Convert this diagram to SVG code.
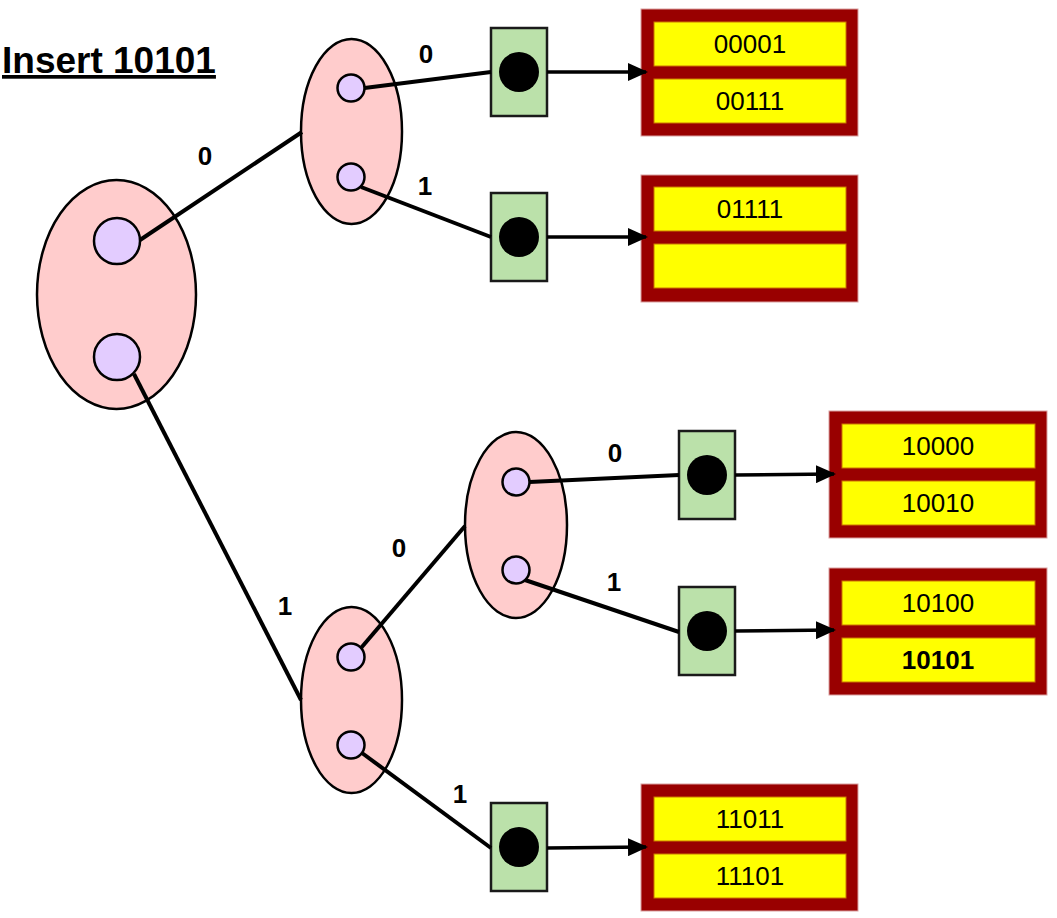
<svg xmlns="http://www.w3.org/2000/svg" width="1057" height="918" viewBox="0 0 1057 918">
<style>
.oval{fill:#FFCCCC;stroke:#000;stroke-width:2.5}
.slot{fill:#E3CCFF;stroke:#000;stroke-width:2.5}
.ptr{fill:#BBE1AA;stroke:#1a1a1a;stroke-width:2.5}
.dot{fill:#000}
.bk{fill:#990000;stroke:#d9a0a0;stroke-width:1}
.cell{fill:#FFFF00;stroke:#cc7700;stroke-width:1}
.edge{stroke:#000;stroke-width:4;fill:none}
.arr{stroke:#000;stroke-width:3.5;fill:none;marker-end:url(#ah)}
.lbl{font-family:"Liberation Sans",Arial,sans-serif;font-weight:bold;font-size:26px;fill:#000;text-anchor:middle}
.val{font-family:"Liberation Sans",Arial,sans-serif;font-size:26px;fill:#000;text-anchor:middle}
.title{font-family:"Liberation Sans",Arial,sans-serif;font-weight:bold;font-size:37px;fill:#000;text-decoration:underline}
</style>
<defs>
<marker id="ah" markerUnits="userSpaceOnUse" markerWidth="20" markerHeight="18" refX="18" refY="9" orient="auto">
<path d="M0,0 L20,9 L0,18 Z" fill="#000"/>
</marker>
</defs>
<rect width="1057" height="918" fill="#fff"/>
<text class="title" x="2" y="73">Insert 10101</text>

<g id="root">
<ellipse class="oval" cx="116.5" cy="294.5" rx="79.5" ry="114.5"/>
<circle class="slot" cx="117" cy="241" r="23"/>
<circle class="slot" cx="117" cy="357" r="23"/>
</g>
<g id="nodeA">
<ellipse class="oval" cx="351.5" cy="131.5" rx="50.5" ry="92.5"/>
<circle class="slot" cx="351" cy="88" r="13.5"/>
<circle class="slot" cx="351" cy="177" r="13.5"/>
</g>
<g id="nodeB">
<ellipse class="oval" cx="351.5" cy="700" rx="50.5" ry="93"/>
<circle class="slot" cx="351" cy="657" r="13.5"/>
<circle class="slot" cx="351" cy="745" r="13.5"/>
</g>
<g id="nodeC">
<ellipse class="oval" cx="516" cy="525" rx="51" ry="93"/>
<circle class="slot" cx="516" cy="482" r="13.5"/>
<circle class="slot" cx="516" cy="570" r="13.5"/>
</g>

<g id="ptr1"><rect class="ptr" x="491" y="28" width="56" height="88"/><circle class="dot" cx="519" cy="72" r="20"/></g>
<g id="ptr2"><rect class="ptr" x="491" y="193" width="56" height="88"/><circle class="dot" cx="519" cy="237" r="20"/></g>
<g id="ptr3"><rect class="ptr" x="679" y="431" width="56" height="88"/><circle class="dot" cx="707" cy="475" r="20"/></g>
<g id="ptr4"><rect class="ptr" x="679" y="587" width="56" height="88"/><circle class="dot" cx="707" cy="631" r="20"/></g>
<g id="ptr5"><rect class="ptr" x="491" y="803" width="56" height="88"/><circle class="dot" cx="519" cy="847" r="20"/></g>

<g id="bucket1">
<rect class="bk" x="641" y="9" width="217" height="127"/>
<rect class="cell" x="654" y="22" width="192" height="44"/>
<rect class="cell" x="654" y="79" width="192" height="44"/>
<text class="val" x="750" y="53">00001</text>
<text class="val" x="750" y="110">00111</text>
</g>
<g id="bucket2">
<rect class="bk" x="641" y="175" width="217" height="127"/>
<rect class="cell" x="654" y="187" width="192" height="44"/>
<rect class="cell" x="654" y="244" width="192" height="44"/>
<text class="val" x="750" y="218">01111</text>
</g>
<g id="bucket3">
<rect class="bk" x="829" y="411" width="218" height="127"/>
<rect class="cell" x="842" y="424" width="193" height="44"/>
<rect class="cell" x="842" y="481" width="193" height="44"/>
<text class="val" x="938" y="455">10000</text>
<text class="val" x="938" y="512">10010</text>
</g>
<g id="bucket4">
<rect class="bk" x="829" y="568" width="218" height="127"/>
<rect class="cell" x="842" y="581" width="193" height="44"/>
<rect class="cell" x="842" y="638" width="193" height="44"/>
<text class="val" x="938" y="612">10100</text>
<text class="val" x="938" y="669" font-weight="bold">10101</text>
</g>
<g id="bucket5">
<rect class="bk" x="641" y="784" width="217" height="127"/>
<rect class="cell" x="654" y="797" width="192" height="44"/>
<rect class="cell" x="654" y="854" width="192" height="44"/>
<text class="val" x="750" y="828">11011</text>
<text class="val" x="750" y="885">11101</text>
</g>

<g id="connectors">
<line class="edge" x1="140" y1="240" x2="302" y2="132"/>
<line class="edge" x1="134" y1="374" x2="301" y2="700"/>
<line class="edge" x1="364.5" y1="88" x2="491" y2="72"/>
<line class="edge" x1="361" y1="187" x2="491" y2="237"/>
<line class="edge" x1="361" y1="648" x2="465" y2="526"/>
<line class="edge" x1="362" y1="753" x2="491" y2="848"/>
<line class="edge" x1="529.5" y1="482" x2="679" y2="475"/>
<line class="edge" x1="525" y1="580" x2="679" y2="632"/>
<line class="arr" x1="547" y1="72" x2="646" y2="72"/>
<line class="arr" x1="547" y1="237" x2="646" y2="237"/>
<line class="arr" x1="735" y1="475" x2="834" y2="474"/>
<line class="arr" x1="735" y1="631" x2="834" y2="630"/>
<line class="arr" x1="547" y1="848" x2="646" y2="847"/>
<text class="lbl" x="205" y="165">0</text>
<text class="lbl" x="285" y="615">1</text>
<text class="lbl" x="426" y="63">0</text>
<text class="lbl" x="425" y="195">1</text>
<text class="lbl" x="399" y="557">0</text>
<text class="lbl" x="460" y="803">1</text>
<text class="lbl" x="615" y="462">0</text>
<text class="lbl" x="614" y="591">1</text>
</g>
</svg>
